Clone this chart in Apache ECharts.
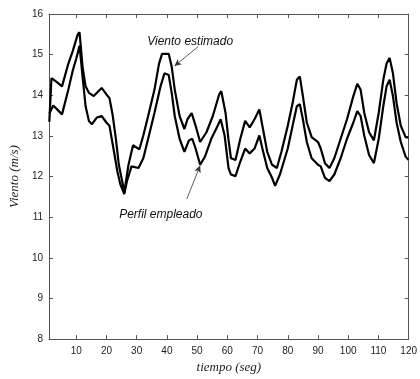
<!DOCTYPE html>
<html>
<head>
<meta charset="utf-8">
<script src="https://cdn.jsdelivr.net/npm/echarts@6/dist/echarts.min.js"></script>
<style>
html,body{margin:0;padding:0;background:#fff;}
#chart{width:420px;height:379px;}
</style>
</head>
<body>
<div id="chart"></div>
<script>
// ---- data ----
var xTicks = [10,20,30,40,50,60,70,80,90,100,110,120];
var yTicks = [8,9,10,11,12,13,14,15,16];

var tEstimado = [1.1,1.8,3.5,5.3,7.4,8.9,10.5,11.1,12.1,13.1,14.2,15.8,18.4,20.0,21.0,22.0,23.1,24.1,25.2,25.9,27.3,28.8,30.9,32.2,33.8,35.9,37.4,38.4,40.6,41.6,42.6,44.2,45.8,46.8,48.2,49.5,51.0,53.1,55.2,57.3,58.0,59.4,60.4,61.2,62.7,64.3,65.9,67.4,69.0,70.6,71.6,73.2,74.8,76.4,77.9,80.0,81.6,83.0,84.0,85.0,86.3,87.9,90.0,90.9,92.3,93.8,95.4,97.5,99.6,101.7,103.0,104.1,105.3,106.9,108.5,110.1,111.6,112.7,113.7,114.8,116.0,117.4,119.0,119.9];
var vEstimado = [13.35,14.42,14.33,14.22,14.78,15.10,15.50,15.55,14.70,14.22,14.06,13.98,14.18,14.02,13.93,13.54,12.94,12.29,11.89,11.61,12.29,12.77,12.67,13.01,13.49,14.14,14.78,15.02,15.02,14.70,14.14,13.49,13.17,13.41,13.56,13.25,12.85,13.09,13.49,14.02,14.10,13.57,12.90,12.45,12.41,12.93,13.37,13.21,13.41,13.65,13.25,12.61,12.29,12.21,12.61,13.25,13.81,14.38,14.46,13.98,13.33,12.97,12.85,12.69,12.33,12.21,12.45,12.93,13.41,13.98,14.28,14.14,13.57,13.09,12.89,13.57,14.38,14.78,14.92,14.54,13.81,13.25,12.97,12.96];

var tPerfil = [1.1,2.4,5.3,7.4,8.9,10.0,11.1,12.1,13.1,14.2,15.2,16.8,18.4,20.0,21.0,22.5,23.6,24.6,25.9,26.8,28.3,30.6,32.2,33.8,35.9,37.9,39.2,40.6,41.6,42.6,44.2,45.8,47.3,48.4,49.5,51.0,52.6,54.7,56.8,57.8,59.1,60.4,61.2,62.7,64.3,65.9,67.4,69.0,70.6,71.6,73.2,74.8,75.8,77.4,80.0,81.6,83.0,84.0,85.0,86.3,87.9,90.0,90.9,92.3,93.8,95.4,97.5,99.6,101.7,103.0,104.1,105.3,106.9,108.5,110.1,111.6,112.7,113.7,114.8,116.0,117.4,119.0,119.9];
var vPerfil = [13.55,13.75,13.53,14.14,14.62,14.90,15.22,14.46,13.73,13.37,13.29,13.45,13.49,13.33,13.25,12.61,12.13,11.81,11.57,11.89,12.25,12.21,12.45,12.93,13.57,14.22,14.54,14.50,14.06,13.49,12.93,12.61,12.89,12.93,12.69,12.29,12.49,12.93,13.25,13.41,13.01,12.21,12.05,12.01,12.37,12.69,12.57,12.69,13.01,12.69,12.21,11.97,11.77,12.05,12.69,13.25,13.73,13.78,13.41,12.85,12.45,12.29,12.25,11.97,11.89,12.05,12.45,12.93,13.33,13.61,13.49,13.01,12.53,12.33,12.93,13.73,14.22,14.38,13.98,13.33,12.85,12.49,12.41];

// annotation anchors (data coordinates)
var labelEstimado = {text:'Viento estimado', at:[47.7,15.31], arrowFrom:[50.4,15.20], arrowTo:[42.5,14.72]};
var labelPerfil = {text:'Perfil empleado', at:[38.0,11.05], arrowFrom:[46.6,11.45], arrowTo:[51.0,12.27]};

function pairs(t, v){ var out=[]; for(var i=0;i<Math.min(t.length,v.length);i++) out.push([t[i],v[i]]); return out; }

var axisColor = '#555';
var labelFont = {fontFamily:'Liberation Sans, Arial, sans-serif', fontSize:10, color:'#222'};

function xAx(pos, showLabel){
  return {
    type:'value', position:pos, min:1, max:120,
    axisLine:{show:true, onZero:false, lineStyle:{color:axisColor, width:1}},
    axisTick:{show:true, inside:true, length:4, customValues:xTicks, lineStyle:{color:axisColor}},
    axisLabel:Object.assign({show:showLabel, customValues:xTicks, margin:7}, labelFont),
    splitLine:{show:false},
    name: showLabel ? 'tiempo (seg)' : '',
    nameLocation:'middle', nameGap:21,
    nameTextStyle:{fontFamily:'Liberation Serif, Times New Roman, serif', fontStyle:'italic', fontSize:13, color:'#222'}
  };
}
function yAx(pos, showLabel){
  return {
    type:'value', position:pos, min:8, max:16, interval:1,
    axisLine:{show:true, onZero:false, lineStyle:{color:axisColor, width:1}},
    axisTick:{show:true, inside:true, length:4, lineStyle:{color:axisColor}},
    axisLabel:Object.assign({show:showLabel, margin:6}, labelFont),
    splitLine:{show:false},
    name: showLabel ? 'Viento (m/s)' : '',
    nameLocation:'middle', nameGap:13, nameRotate:90,
    nameTextStyle:{fontFamily:'Liberation Serif, Times New Roman, serif', fontStyle:'italic', fontSize:13, color:'#222'}
  };
}

function annot(a){
  return {
    markLine:{
      silent:true, animation:false,
      symbol:['none','arrow'], symbolSize:[5,7],
      lineStyle:{color:'#333', width:0.8, type:'solid'},
      label:{show:false},
      data:[[{coord:a.arrowFrom},{coord:a.arrowTo}]]
    },
    markPoint:{
      silent:true, animation:false,
      symbol:'circle', symbolSize:0,
      label:{show:true, position:'inside', formatter:a.text, fontFamily:'Liberation Sans, Arial, sans-serif', fontStyle:'italic', fontSize:12, color:'#111'},
      data:[{coord:a.at, value:0}]
    }
  };
}

var chart = echarts.init(document.getElementById('chart'), null, {renderer:'canvas'});
var s1 = Object.assign({
  type:'line', name:'Viento estimado', data:pairs(tEstimado, vEstimado),
  showSymbol:false, symbol:'none', smooth:false,
  lineStyle:{color:'#000', width:2.2}, xAxisIndex:0, yAxisIndex:0
}, annot(labelEstimado));
var s2 = Object.assign({
  type:'line', name:'Perfil empleado', data:pairs(tPerfil, vPerfil),
  showSymbol:false, symbol:'none', smooth:false,
  lineStyle:{color:'#000', width:2.2}, xAxisIndex:0, yAxisIndex:0
}, annot(labelPerfil));

chart.setOption({
  animation:false,
  backgroundColor:'#fff',
  grid:{left:36, right:6, top:14, bottom:33, containLabel:false},
  xAxis:[xAx('bottom', true), xAx('top', false)],
  yAxis:[yAx('left', true), yAx('right', false)],
  series:[s1, s2]
});
</script>
</body>
</html>
